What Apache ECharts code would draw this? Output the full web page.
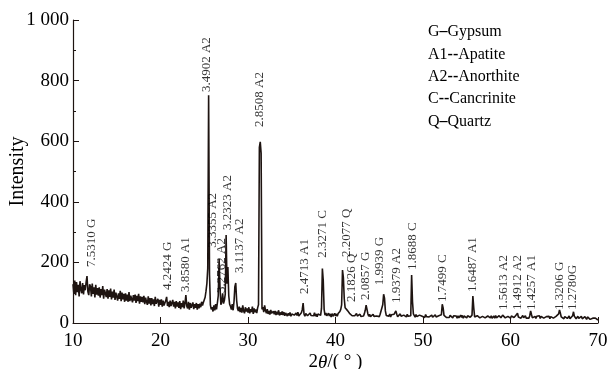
<!DOCTYPE html>
<html>
<head>
<meta charset="utf-8">
<script src="https://cdn.jsdelivr.net/npm/echarts@6/dist/echarts.min.js"></script>
<style>
  html, body { margin: 0; padding: 0; background: #fff; }
  #chart { width: 608px; height: 369px; }
</style>
</head>
<body>
<div id="chart"></div>
<script>
// XRD scan, 2theta from 10 to 70 step 0.1
const thetaStart = 10;
const thetaStep = 0.1;
const intensity = [
  128,96,140,92,135,102,126,88,138,110,
  98,132,94,125,108,135,155,104,92,128,
  120,88,130,96,118,84,126,94,115,90,
  118,84,112,92,122,80,110,116,86,112,
  80,108,86,114,78,104,84,110,76,100,
  104,74,98,80,106,72,100,78,96,70,
  98,74,94,70,102,72,90,96,68,92,
  74,94,66,90,72,96,64,88,70,86,
  68,90,62,84,70,60,88,64,82,58,
  82,62,78,56,86,64,60,80,54,76,
  60,78,54,74,58,52,74,86,56,70,
  52,74,56,50,76,54,70,48,72,54,
  68,50,72,46,66,52,74,48,66,92,
  56,48,70,44,66,50,44,68,46,62,
  50,66,44,62,48,64,52,70,58,68,
  70,85,105,130,180,752,160,60,45,52,
  38,58,42,62,45,66,90,211,118,60,
  70,98,64,75,95,290,130,185,90,62,
  55,44,62,42,70,120,132,75,48,40,
  54,36,50,34,58,40,32,52,38,48,
  34,52,32,46,36,54,30,48,35,45,
  33,50,60,580,598,560,45,52,36,58,
  42,32,46,30,40,28,43,32,27,39,
  29,40,26,37,28,42,25,35,27,38,
  26,36,24,33,37,23,32,25,35,22,
  30,24,35,26,22,33,25,36,23,29,
  24,34,44,66,30,22,31,35,24,30,
  23,33,25,20,31,24,34,22,30,21,
  30,24,35,25,48,180,140,45,26,33,
  24,21,32,23,30,20,31,22,28,32,
  23,30,22,31,33,38,45,60,175,150,
  80,50,48,54,40,35,32,26,35,24,
  22,30,24,20,31,23,28,21,29,22,
  20,28,23,31,42,59,45,30,22,29,
  21,27,19,29,22,20,28,23,18,27,
  21,29,23,30,60,95,82,40,25,20,
  28,22,30,20,27,31,23,29,31,40,
  29,21,27,20,30,22,28,19,26,21,
  27,20,29,22,19,28,24,158,70,30,
  25,19,28,21,27,18,26,20,29,22,
  19,26,18,28,21,17,27,20,25,18,
  26,19,24,17,27,20,25,18,24,28,
  20,27,62,50,25,19,26,18,24,20,
  18,25,19,26,17,24,27,18,23,16,
  24,17,23,26,18,25,16,23,19,26,
  17,24,18,25,19,22,26,89,50,20,
  22,16,24,18,25,17,23,15,22,18,
  24,17,22,16,23,26,18,17,24,16,
  18,23,16,25,17,22,15,24,18,17,
  21,26,32,24,17,23,16,22,25,18,
  16,23,17,24,18,22,25,26,32,20,
  17,23,16,22,25,17,21,24,16,22,
  20,16,24,40,28,17,23,16,22,15,
  22,16,21,24,15,22,17,23,16,21,
  15,21,23,16,22,14,21,17,23,16,
  21,15,22,17,24,30,43,32,20,16,
  20,14,21,16,22,15,20,23,14,19,
  20,24,37,22,17,14,20,22,15,21,
  17,22,14,20,13,21,15,12,20,14,
  18,12,17,11,16,14,10,16,11,14,
  10
];

// peak annotations (d-spacing + phase)
const peakLabels = ['7.5310 G','4.2424 G','3.8580 A1','3.4902 A2','3.3355 A2','3.2762 A2','3.2323 A2','3.1137 A2',
  '2.8508 A2','2.4713 A1','2.3271 C','2.2077 Q','2.1826 Q','2.0857 G','1.9939 G','1.9379 A2','1.8688 C',
  '1.7499 C','1.6487 A1','1.5613 A2','1.4912 A2','1.4257 A1','1.3206 G','1.2780G'];
const labelTheta = [12.17,20.86,22.91,25.31,26.0,27.03,27.71,29.09,
  31.37,36.51,38.57,41.31,41.89,43.49,45.09,47.03,48.86,
  52.29,55.71,59.26,60.86,62.46,65.66,67.14];
const labelBase = [185,109,102,762,248,99,307,165,
  647,96,215,218,69,76,125,66,175,
  69,102,43,43,43,43,43];

const legendLines = ['G{d|–}Gypsum','A1{d|--}Apatite','A2{d|--}Anorthite','C{d|--}Cancrinite','Q{d|–}Quartz'];

const scan = intensity.map((v, i) => [+(thetaStart + i * thetaStep).toFixed(1), v]);
const labelPts = peakLabels.map((t, i) => ({ value: [labelTheta[i], labelBase[i]], name: t }));

const serif = '"Liberation Serif", "DejaVu Serif", serif';
const ink = '#1e1411';

const chart = echarts.init(document.getElementById('chart'));
chart.setOption({
  animation: false,
  grid: { left: 73, right: 10, top: 20, bottom: 46, outerBoundsMode: 'none', containLabel: false },
  xAxis: {
    type: 'value', min: 10, max: 70, interval: 10,
    name: '2{i|θ}/( ° )', nameLocation: 'middle', nameGap: 30, nameMoveOverlap: false,
    nameTextStyle: { fontFamily: serif, fontSize: 19, color: '#000', verticalAlign: 'top',
      rich: { i: { fontFamily: serif, fontStyle: 'italic', fontSize: 19, color: '#000' } } },
    axisLine: { lineStyle: { color: ink, width: 1.2 } },
    axisTick: { inside: true, length: 6, lineStyle: { color: ink } },
    axisLabel: { fontFamily: serif, fontSize: 19, color: '#000', margin: 9 },
    splitLine: { show: false }
  },
  yAxis: {
    type: 'value', min: 0, max: 1000, interval: 200,
    name: 'Intensity', nameLocation: 'middle', nameGap: 45, nameRotate: 90, nameMoveOverlap: false,
    nameTextStyle: { fontFamily: serif, fontSize: 20, color: '#000' },
    axisLine: { show: true, lineStyle: { color: ink, width: 1.2 } },
    axisTick: { show: true, inside: true, length: 6, lineStyle: { color: ink } },
    minorTick: { show: true, splitNumber: 2, length: 3, lineStyle: { color: ink } },
    axisLabel: { fontFamily: serif, fontSize: 19, color: '#000', margin: 4,
      formatter: v => v >= 1000 ? String(v).replace(/(\d)(\d{3})$/, '$1 $2') : v },
    splitLine: { show: false }
  },
  graphic: legendLines.map((t, i) => ({
    type: 'text', left: 428, top: 24 + i * 22.4,
    style: { text: t, font: '16px ' + serif, fill: '#000',
      rich: { d: { fontFamily: serif, fontSize: 16, fontWeight: 'bold', fill: '#000' } } }
  })),
  series: [
    {
      type: 'line', data: scan, showSymbol: false, symbol: 'none',
      lineStyle: { color: ink, width: 1.6 }, z: 2
    },
    {
      type: 'scatter', data: labelPts, symbolSize: 0, silent: true, z: 3,
      label: {
        show: true, formatter: p => p.name, position: [0, 0], rotate: 90,
        align: 'left', verticalAlign: 'middle',
        fontFamily: serif, fontSize: 13, color: '#000'
      }
    }
  ]
});
</script>
</body>
</html>
